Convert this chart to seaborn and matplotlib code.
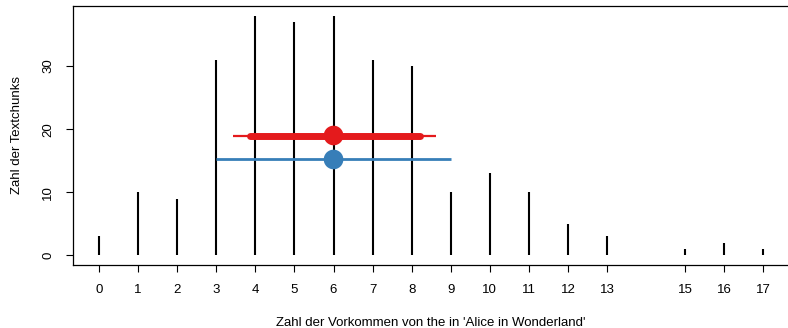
import matplotlib
matplotlib.use("Agg")
import matplotlib.pyplot as plt
import seaborn as sns
import pandas as pd

# Frequency of "the" per text chunk
occurrences = [0, 1, 2, 3, 4, 5, 6, 7, 8, 9, 10, 11, 12, 13, 15, 16, 17]
chunk_counts = [3, 10, 9, 31, 38, 37, 38, 31, 30, 10, 13, 10, 5, 3, 1, 2, 1]

# Summary markers: centre, inner and outer interval, height
red_center, red_y = 6, 19
red_inner = (3.87, 8.2)
red_outer = (3.42, 8.63)
blue_center, blue_y = 6, 15.2
blue_range = (3, 9)

sns.set_theme(style="ticks")
plt.rcParams["font.family"] = ["Liberation Sans", "DejaVu Sans"]
plt.rcParams["text.color"] = "black"
plt.rcParams["axes.labelcolor"] = "black"

fig = plt.figure(figsize=(7.88, 3.28), dpi=100)
ax = fig.add_axes([72.5 / 788, 63 / 328, (790 - 72.5) / 788, (265 - 6) / 328])

df = pd.DataFrame({"k": occurrences, "n": chunk_counts})
ax.vlines(df["k"], 0, df["n"], color="black", linewidth=1.5)

red = "#e41a1c"
blue = "#377eb8"
ax.plot(red_outer, [red_y, red_y], color=red, linewidth=1.6, solid_capstyle="butt")
ax.plot(red_inner, [red_y, red_y], color=red, linewidth=5, solid_capstyle="round")
ax.plot(blue_range, [blue_y, blue_y], color=blue, linewidth=2, solid_capstyle="butt")
pts = pd.DataFrame({"x": [red_center, blue_center], "y": [red_y, blue_y],
                    "g": ["r", "b"]})
sns.scatterplot(data=pts, x="x", y="y", hue="g", palette={"r": red, "b": blue},
                s=200, edgecolor="none", legend=False, ax=ax, zorder=5)

ax.set_xlim(-0.68, 17.68)
ax.set_ylim(-1.52, 39.52)
ax.set_xticks(occurrences)
ax.set_xticklabels([str(v) for v in occurrences])
ax.set_yticks([0, 10, 20, 30])
ax.set_yticklabels(["0", "10", "20", "30"], rotation=90, va="center")
ax.tick_params(axis="both", direction="out", length=5, width=0.8, labelsize=9.5,
               colors="black", pad=8)
ax.tick_params(axis="x", pad=8.5)

for side in ["left", "top", "bottom"]:
    ax.spines[side].set_visible(True)
    ax.spines[side].set_color("black")
    ax.spines[side].set_linewidth(0.9)
ax.spines["right"].set_visible(False)

ax.set_xlabel("Zahl der Vorkommen von the in 'Alice in Wonderland'", fontsize=9.5,
              labelpad=15, color="black")
ax.set_ylabel("Zahl der Textchunks", fontsize=9.5, labelpad=14, color="black")

fig.savefig("out.png", dpi=100)
